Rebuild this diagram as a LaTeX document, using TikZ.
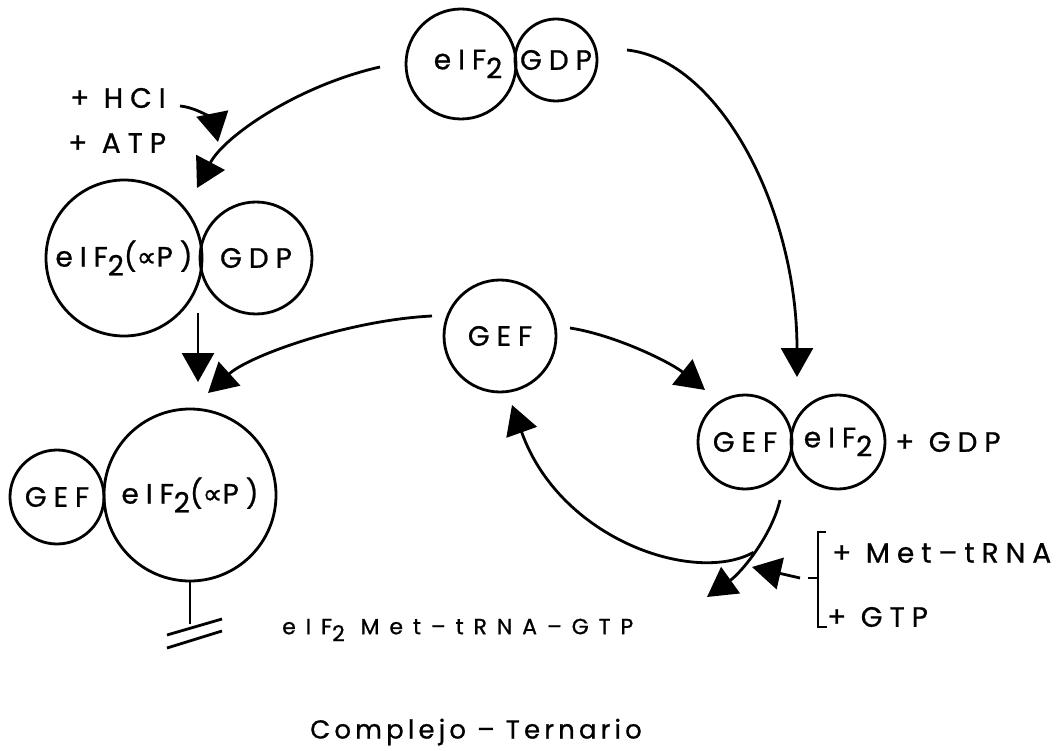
\documentclass[tikz,border=0pt]{standalone}
\usepackage{fontspec}
\usepackage{graphicx}
\usetikzlibrary{arrows.meta,calc}
\setmainfont{Poppins}
\newfontfamily\lab[LetterSpace=25,FakeBold=0.8]{Poppins}
\newfontfamily\labwide[LetterSpace=45,FakeBold=0.8]{Poppins}
\newfontfamily\labcap[LetterSpace=16,FakeBold=0.8]{Poppins}
\newfontfamily\symf[FakeBold=0.8]{DejaVu Sans}
\newcommand\lowtwo{\raisebox{-0.32em}{2}}
\newcommand\alfp{{\symf ∝}}
\begin{document}
\begin{tikzpicture}[x=1pt,y=-1pt,
  blob/.style={circle,draw,line width=2.8pt,inner sep=0pt,
    font=\lab\fontsize{28}{32}\selectfont},
  flow/.style={-{Triangle[length=29pt,width=32pt]},line width=2.8pt},
  txt/.style={inner sep=0pt,font=\lab\fontsize{28}{32}\selectfont}]
\useasboundingbox (0,0) rectangle (1063,751);

% complexes and free factors
\node[blob,minimum size=110pt] (t1) at (461,64) {\hspace*{14pt}eIF\lowtwo};
\node[blob,minimum size=82pt]  (t2) at (556,60) {GDP};
\node[blob,minimum size=156pt] (l1) at (124,258) {eIF\lowtwo(\alfp P)};
\node[blob,minimum size=112pt] (l2) at (256,258) {GDP};
\node[blob,minimum size=94pt]  (b1) at (57,497) {GEF};
\node[blob,minimum size=172pt] (b2) at (190,495) {eIF\lowtwo(\alfp P)};
\node[blob,minimum size=112pt] (g)  at (500,336) {GEF};
\node[blob,minimum size=94pt]  (r1) at (745,442) {GEF};
\node[blob,minimum size=94pt]  (r2) at (838,442) {eIF\lowtwo};

% reagents and products
\node[txt,anchor=west] (hci) at (70,98)  {+ HCI};
\node[txt,anchor=west] (atp) at (68,143) {+ ATP};
\node[txt,anchor=west] (gdp) at (895,442) {+ GDP};
\node[txt,anchor=west] (met) at (832,553) {+ Met–tRNA};
\node[txt,anchor=west] (gtp) at (827,617) {+ GTP};
\node[txt,anchor=west,font=\labwide\fontsize{22}{26}\selectfont] (tern) at (282,630)
  {eIF\lowtwo\ Met–tRNA–GTP};
\node[txt,anchor=west,font=\labcap\fontsize{26}{30}\selectfont] (cap) at (310,732)
  {Complejo – Ternario};

% arrow end points
\coordinate (a1s) at (380,67);  \coordinate (a1e) at (197,188);
\coordinate (a2s) at (180,106); \coordinate (a2e) at (218,142);
\coordinate (a3s) at (627,50);  \coordinate (a3e) at (797,377);
\coordinate (a4s) at (198,313); \coordinate (a4e) at (198,382);
\coordinate (a5s) at (432,316); \coordinate (a5e) at (208,393);
\coordinate (a6s) at (570,328); \coordinate (a6e) at (705,390);
\coordinate (a7s) at (780,500); \coordinate (a7e) at (707,597);
\coordinate (a8e) at (512,405);
\coordinate (brk) at (808,578); \coordinate (a9e) at (752,567);

% phosphorylation by HCI
\draw[flow] (a1s) .. controls (300,85) and (225,135) .. (a1e);
\draw[flow] (a2s) .. controls (200,108) and (214,122) .. (a2e);
\draw[flow] (a4s) -- (a4e);
% GDP exchange
\draw[flow] (a3s) .. controls (720,60) and (797,210) .. (a3e);
\draw[flow] (a5s) .. controls (350,320) and (250,355) .. (a5e);
\draw[flow] (a6s) .. controls (615,335) and (670,362) .. (a6e);
\draw[flow] (a7s) .. controls (772,535) and (742,572) .. coordinate[pos=0.5] (fork) (a7e);
\draw[flow] (fork) .. controls (695,585) and (560,540) .. (a8e);

% bracket of Met-tRNA + GTP
\draw[line width=2.8pt] (826,532) -- (818,532) -- (818,627) -- (827,627);
\draw[line width=2.8pt] (brk) -- (818,578);
\draw[flow] ([xshift=-8pt]brk) -- (a9e);

% blocked exchange on the phosphorylated complex
\draw[line width=2.8pt] (b2.south) -- ++(0,42) coordinate (gnd);
\draw[line width=2.8pt] (167,635) -- (222,619);
\draw[line width=2.8pt] (167,648) -- (222,631);
\end{tikzpicture}
\end{document}
